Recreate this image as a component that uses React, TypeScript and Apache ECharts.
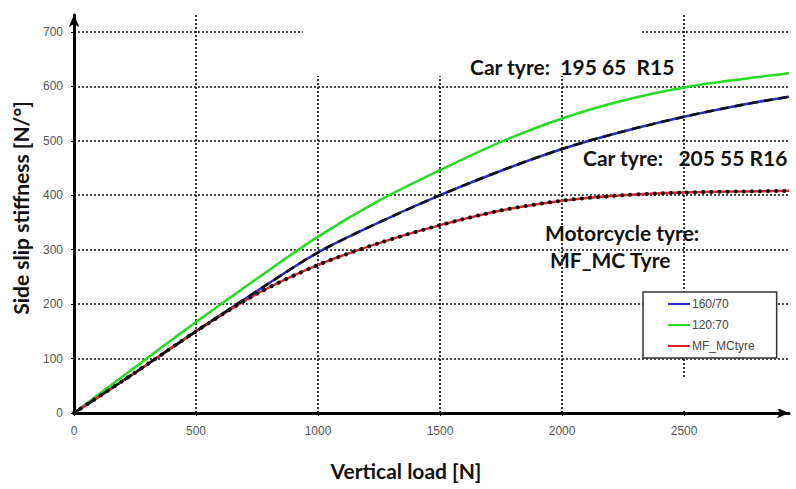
import React, { useEffect, useRef } from "react";
import * as echarts from "echarts";

// Vertical load [N]
const loads = [0, 250, 500, 750, 1000, 1250, 1500, 1750, 2000, 2250, 2500, 2750, 2930];
// Side slip stiffness [N/°]
const tyre16070 = [0, 74, 150, 224, 295, 350, 400, 445, 485, 517, 544, 567, 581];
const tyre12070 = [0, 84, 167, 247, 324, 390, 446, 498, 541, 574, 598, 614, 624];
const tyreMC = [0, 74, 150, 219, 272, 312, 345, 372, 390, 400, 405, 407, 408];

const xTicks = [0, 500, 1000, 1500, 2000, 2500];
const yTicks = [0, 100, 200, 300, 400, 500, 600, 700];
const xMax = 2930;
const yMax = 731;

const legendNames = ["160/70", "120:70", "MF_MCtyre"];
const xTitle = "Vertical load [N]";
const yTitle = "Side slip stiffness [N/°]";
const noteCar1 = "Car tyre:  195 65  R15";
const noteCar2 = "Car tyre:   205 55 R16";
const noteMoto1 = "Motorcycle tyre:";
const noteMoto2 = "MF_MC Tyre";

const pairs = (ys: number[]) => loads.map((x, i) => [x, ys[i]]);

const TITLE_FONT = "Lato, 'Open Sans', sans-serif";
const TICK_FONT = "'Liberation Sans', Arial, sans-serif";

export default function App() {
  const ref = useRef<HTMLDivElement>(null);
  useEffect(() => {
    if (!ref.current) return;
    const chart = echarts.init(ref.current, undefined, { renderer: "svg" });
    const gridLine = { show: true, lineStyle: { color: "#111", width: 1.7, type: [2, 2] as any } };
    const noteStyle = (text: string) => ({
      text,
      fontFamily: TITLE_FONT,
      fontWeight: "bold",
      fontSize: 21,
      fill: "#111",
      verticalAlign: "middle",
    });
    const axisLine = {
      show: true,
      lineStyle: { color: "#000", width: 3 },
      symbol: ["none", "arrow"],
      symbolSize: [8, 12],
    };
    const labelStyle = {
      color: "#555",
      fontSize: 12,
      fontFamily: TICK_FONT,
      formatter: (v: number) => String(v),
    };
    chart.setOption({
      animation: false,
      backgroundColor: "#fff",
      grid: { left: 74, top: 15, right: 7, bottom: 76, containLabel: false, outerBoundsMode: "none" },
      xAxis: {
        type: "value",
        min: 0,
        max: xMax,
        axisLine,
        axisTick: { show: true, length: 3, customValues: xTicks, lineStyle: { color: "#000", width: 1 } },
        axisLabel: { ...labelStyle, customValues: xTicks, margin: 12 },
        splitLine: gridLine,
      },
      yAxis: {
        type: "value",
        min: 0,
        max: yMax,
        axisLine,
        axisTick: { show: true, length: 3, customValues: yTicks, lineStyle: { color: "#000", width: 1 } },
        axisLabel: { ...labelStyle, customValues: yTicks, margin: 11 },
        splitLine: gridLine,
      },
      legend: {
        orient: "vertical",
        left: 643,
        top: 292,
        data: legendNames,
        icon: "rect",
        itemWidth: 22,
        itemHeight: 2,
        itemGap: 7,
        padding: [5, 22, 5, 25],
        backgroundColor: "#fff",
        borderColor: "#333",
        borderWidth: 1.5,
        borderRadius: 0,
        textStyle: { fontFamily: TICK_FONT, fontSize: 12, color: "#444", lineHeight: 14, padding: [0, 0, 0, -3] },
        z: 6,
      },
      series: [
        {
          name: legendNames[1],
          type: "line",
          data: pairs(tyre12070),
          smooth: 0.3,
          showSymbol: false,
          lineStyle: { color: "#22dd22", width: 2.5 },
          itemStyle: { color: "#22dd22" },
          z: 3,
        },
        {
          name: legendNames[0],
          type: "line",
          data: pairs(tyre16070),
          smooth: 0.3,
          showSymbol: false,
          lineStyle: { color: "#2a2ad0", width: 2.5 },
          itemStyle: { color: "#2a2ad0" },
          z: 3,
        },
        {
          name: "160/70 reference",
          type: "line",
          data: pairs(tyre16070),
          smooth: 0.3,
          showSymbol: false,
          lineStyle: { color: "#111", width: 2.6, type: [9, 6] as any },
          z: 4,
        },
        {
          name: legendNames[2],
          type: "line",
          data: pairs(tyreMC),
          smooth: 0.3,
          showSymbol: false,
          lineStyle: { color: "#e02424", width: 2.5 },
          itemStyle: { color: "#e02424" },
          z: 3,
        },
        {
          name: "MF_MCtyre reference",
          type: "line",
          data: pairs(tyreMC),
          smooth: 0.3,
          showSymbol: false,
          lineStyle: { color: "#111", width: 4, type: [0.1, 8] as any, cap: "round" },
          z: 4,
        },
      ],
      graphic: {
        elements: [
          { type: "rect", x: 303, y: 0, z: 5, shape: { width: 337, height: 76 }, style: { fill: "#fff" } },
          { type: "rect", x: 600, y: 377, z: 5, shape: { width: 196, height: 32 }, style: { fill: "#fff" } },
          { type: "text", x: 470, y: 66, z: 10, style: noteStyle(noteCar1) },
          { type: "text", x: 583, y: 157, z: 10, style: noteStyle(noteCar2) },
          { type: "text", x: 545, y: 232, z: 10, style: noteStyle(noteMoto1) },
          { type: "text", x: 550, y: 259, z: 10, style: noteStyle(noteMoto2) },
          { type: "text", x: 406, y: 470, z: 10, style: { ...noteStyle(xTitle), align: "center" } },
          {
            type: "text",
            x: 20,
            y: 208,
            rotation: Math.PI / 2,
            z: 10,
            style: { ...noteStyle(yTitle), align: "center" },
          },
        ],
      },
    });
    return () => chart.dispose();
  }, []);
  return (
    <div
      ref={ref}
      style={{ position: "fixed", left: 0, top: 0, width: 796, height: 489, background: "#fff" }}
    />
  );
}
